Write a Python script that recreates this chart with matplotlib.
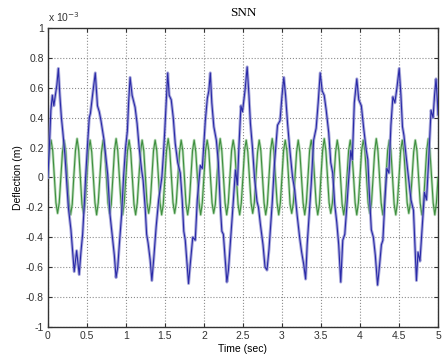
import numpy as np
import matplotlib
matplotlib.use("Agg")
import matplotlib.pyplot as plt
from matplotlib.ticker import FuncFormatter

# Blue response (values in units of 1e-3 m)
blue_t = [
    0.000, 0.019, 0.039, 0.058, 0.077, 0.096, 0.116, 0.135, 0.154, 0.174,
    0.193, 0.219, 0.238, 0.263, 0.296, 0.315, 0.338, 0.369, 0.402,
    0.424, 0.446, 0.467, 0.482, 0.510, 0.531, 0.546, 0.575, 0.608, 0.636,
    0.659, 0.681, 0.720, 0.767, 0.797, 0.832, 0.852, 0.874, 0.896,
    0.916, 0.945, 0.970, 0.996, 1.019, 1.035, 1.054, 1.080, 1.118, 1.144,
    1.170, 1.202, 1.221, 1.247, 1.266, 1.285, 1.311, 1.333,
    1.356, 1.388, 1.420, 1.461, 1.482, 1.497, 1.517, 1.536, 1.555, 1.581,
    1.607, 1.632, 1.664, 1.697, 1.722, 1.742, 1.761, 1.780, 1.803,
    1.825, 1.857, 1.889, 1.915, 1.954, 1.979, 2.018, 2.044, 2.063, 2.082,
    2.101, 2.127, 2.159, 2.185, 2.211, 2.230, 2.249, 2.275, 2.294,
    2.314, 2.339, 2.371, 2.404, 2.429, 2.448, 2.474, 2.494, 2.526, 2.554,
    2.577, 2.596, 2.622, 2.648, 2.680, 2.699, 2.725, 2.757, 2.783, 2.808,
    2.834, 2.875, 2.905, 2.943, 2.975, 3.001, 3.024, 3.046, 3.072, 3.098,
    3.136, 3.162, 3.194, 3.226, 3.252, 3.278, 3.303,
    3.323, 3.348, 3.374, 3.406, 3.438, 3.464, 3.490, 3.515, 3.541, 3.567,
    3.599, 3.625, 3.650, 3.676, 3.702, 3.727, 3.753, 3.779, 3.805,
    3.830, 3.856, 3.882, 3.901, 3.927, 3.959, 3.984, 4.017, 4.049, 4.081,
    4.100, 4.119, 4.145, 4.171, 4.196, 4.225,
    4.248, 4.274, 4.293, 4.319, 4.344, 4.370, 4.396, 4.421, 4.447, 4.473,
    4.502, 4.524, 4.544, 4.563, 4.589, 4.621, 4.653, 4.685, 4.704, 4.723,
    4.743, 4.768,
    4.794, 4.826, 4.852, 4.878, 4.910, 4.936, 4.955, 4.974, 4.993, 5.000,
]
blue_v = [
    0.00, 0.20, 0.45, 0.55, 0.48, 0.55, 0.62, 0.73, 0.55, 0.40,
    0.30, 0.15, 0.00, -0.20, -0.35, -0.48, -0.63, -0.49, -0.65,
    -0.50, -0.38, -0.18, -0.02, 0.23, 0.40, 0.43, 0.56, 0.70, 0.48,
    0.44, 0.38, 0.25, 0.02, -0.25, -0.42, -0.52, -0.67, -0.60,
    -0.45, -0.25, 0.00, 0.20, 0.31, 0.50, 0.67, 0.55, 0.47, 0.36,
    0.20, 0.05, -0.02, -0.20, -0.38, -0.44, -0.55, -0.69,
    -0.55, -0.33, -0.15, 0.00, 0.16, 0.30, 0.50, 0.70, 0.55, 0.52,
    0.40, 0.23, 0.10, 0.03, -0.15, -0.36, -0.42, -0.55, -0.71,
    -0.58, -0.40, -0.42, -0.15, 0.08, 0.06, 0.38, 0.53, 0.58, 0.70,
    0.50, 0.34, 0.25, 0.10, -0.20, -0.36, -0.38, -0.56, -0.70,
    -0.62, -0.44, -0.20, 0.05, -0.05, 0.20, 0.48, 0.44, 0.58, 0.74,
    0.55, 0.36, 0.20, 0.00, -0.16, -0.20, -0.32, -0.45, -0.60, -0.62,
    -0.48, -0.17, 0.10, 0.35, 0.38, 0.55, 0.67, 0.55, 0.36, 0.20,
    0.00, -0.08, -0.25, -0.40, -0.50, -0.58, -0.68,
    -0.45, -0.25, -0.05, 0.25, 0.33, 0.50, 0.70, 0.58, 0.55, 0.45,
    0.30, 0.10, 0.03, -0.18, -0.30, -0.45, -0.70, -0.42, -0.38,
    -0.20, 0.00, 0.18, 0.12, 0.50, 0.66, 0.52, 0.48, 0.32, 0.18,
    0.12, -0.10, -0.35, -0.40, -0.52, -0.72,
    -0.60, -0.45, -0.42, -0.15, 0.06, 0.03, 0.35, 0.54, 0.50, 0.60,
    0.73, 0.55, 0.34, 0.28, 0.15, 0.00, -0.15, -0.22, -0.45, -0.69,
    -0.50, -0.56,
    -0.35, -0.10, -0.15, 0.10, 0.45, 0.40, 0.55, 0.66, 0.50, 0.42,
]

# Green response (units of 1e-3 m), 8 samples per oscillation
green_v = [
    0.00, 0.18, 0.25, 0.18, 0.01, -0.17, -0.24, -0.17,
    0.00, 0.17, 0.25, 0.18, 0.00, -0.17, -0.25, -0.18,
    0.01, 0.18, 0.26, 0.18, 0.00, -0.18, -0.24, -0.17,
    0.00, 0.18, 0.25, 0.17, 0.00, -0.17, -0.25, -0.17,
    0.00, 0.17, 0.25, 0.18, 0.01, -0.17, -0.24, -0.18,
    0.00, 0.18, 0.26, 0.18, 0.00, -0.17, -0.25, -0.17,
    0.01, 0.18, 0.25, 0.17, 0.00, -0.18, -0.25, -0.17,
    0.00, 0.17, 0.25, 0.18, 0.00, -0.17, -0.24, -0.17,
    0.00, 0.18, 0.25, 0.18, 0.01, -0.17, -0.25, -0.18,
    0.00, 0.18, 0.26, 0.18, 0.00, -0.17, -0.24, -0.17,
    0.00, 0.17, 0.25, 0.18, 0.00, -0.18, -0.25, -0.17,
    0.01, 0.18, 0.25, 0.17, 0.00, -0.17, -0.25, -0.17,
    0.00, 0.18, 0.25, 0.18, 0.00, -0.17, -0.24, -0.18,
    0.00, 0.17, 0.26, 0.18, 0.01, -0.17, -0.25, -0.17,
    0.00, 0.18, 0.25, 0.18, 0.00, -0.18, -0.25, -0.17,
    0.00, 0.18, 0.25, 0.17, 0.00, -0.17, -0.24, -0.17,
    0.01, 0.17, 0.25, 0.18, 0.00, -0.17, -0.25, -0.18,
    0.00, 0.18, 0.26, 0.18, 0.00, -0.17, -0.25, -0.17,
    0.00, 0.18, 0.25, 0.18, 0.01, -0.18, -0.24, -0.17,
    0.00, 0.17, 0.25, 0.17, 0.00, -0.17, -0.25, -0.17,
    0.00, 0.18, 0.25, 0.18, 0.00, -0.17, -0.25, -0.18,
    0.01, 0.18, 0.26, 0.18, 0.00, -0.17, -0.24, -0.17,
    0.00, 0.17, 0.25, 0.18, 0.00, -0.18, -0.25, -0.17,
    0.00, 0.18, 0.25, 0.17, 0.01, -0.17, -0.25, -0.17,
    0.00, 0.18, 0.25, 0.18, 0.00, -0.17, -0.24, -0.18,
    0.00, 0.17, 0.26, 0.18, 0.00, -0.17, -0.25, -0.17,
    0.01, 0.18, 0.25, 0.18, 0.00, -0.18, -0.25, -0.17,
    0.00, 0.18, 0.25, 0.17, 0.00, -0.17, -0.24, -0.17,
    0.00, 0.17, 0.25, 0.18, 0.01, -0.17, -0.25, -0.18,
    0.00, 0.18, 0.26, 0.18, 0.00, -0.17, -0.25, -0.17,
    0.00,
]
green_t = np.linspace(0.0, 5.0, len(green_v))

x_ticks = [0, 0.5, 1, 1.5, 2, 2.5, 3, 3.5, 4, 4.5, 5]
y_ticks = [-1, -0.8, -0.6, -0.4, -0.2, 0, 0.2, 0.4, 0.6, 0.8, 1]

plt.rcParams['font.family'] = ['Liberation Sans', 'DejaVu Sans']
plt.rcParams['axes.unicode_minus'] = False

fig = plt.figure(figsize=(4.47, 3.6), dpi=100)
ax = fig.add_axes([0.107, 0.092, 0.873, 0.830])

ax.plot(green_t, green_v, color='#8cc48c', lw=2.0, alpha=0.6, zorder=3)
ax.plot(green_t, green_v, color='#3f8f3f', lw=0.8, zorder=3.5)
ax.plot(blue_t, blue_v, color='#8e8ecf', lw=2.2, alpha=0.75, zorder=4)
ax.plot(blue_t, blue_v, color='#2a2aa8', lw=0.8, zorder=5)

ax.set_xlim(0, 5)
ax.set_ylim(-1, 1)
ax.set_xticks(x_ticks)
ax.set_yticks(y_ticks)
fmt = FuncFormatter(lambda v, p: f"{round(v, 2):g}" if abs(v) > 1e-9 else "0")
ax.xaxis.set_major_formatter(fmt)
ax.yaxis.set_major_formatter(fmt)
ax.tick_params(direction='in', top=True, right=True, length=3, width=0.8,
               labelsize=7.5, colors='#333333', pad=3)
ax.grid(True, linestyle=':', color='#8c8c8c', lw=0.8)
for s in ax.spines.values():
    s.set_color('#333333')
    s.set_linewidth(1.0)

ax.set_title('SNN', family='Liberation Serif', fontsize=9.5, pad=9)
ax.set_xlabel('Time (sec)', fontsize=7.5, labelpad=2)
ax.set_ylabel('Deflection (m)', fontsize=7.5, labelpad=2)
ax.text(0.0, 1.012, 'x 10$^{-3}$', transform=ax.transAxes, fontsize=7.5,
        va='bottom', ha='left', color='#333333')

fig.savefig('out.png', dpi=100)
